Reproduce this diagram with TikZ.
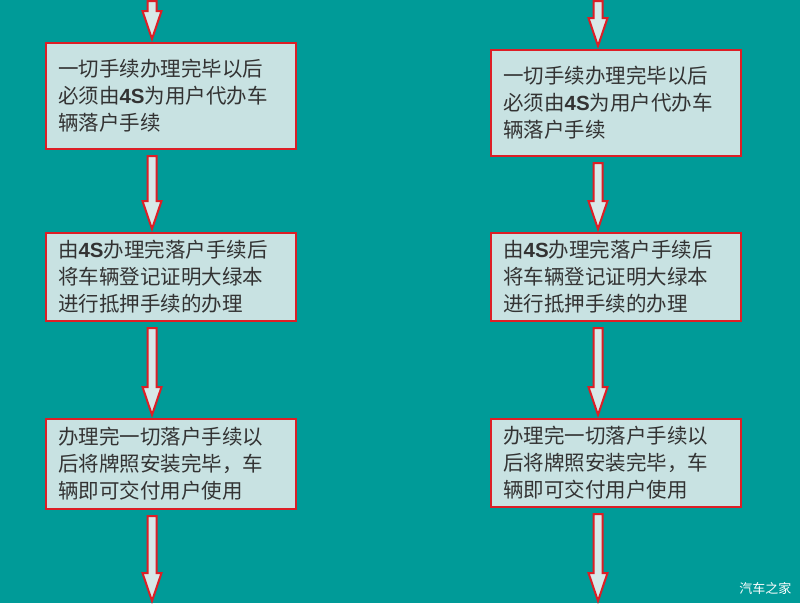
\documentclass[tikz,border=0pt]{standalone}
\usepackage{fontspec}
\setmainfont{Noto Sans CJK SC}
\newfontfamily\latinb{Liberation Sans}
\newcommand\fs{{\latinb\bfseries 4S}}
\usetikzlibrary{calc}
\definecolor{bg}{HTML}{009B98}
\definecolor{boxf}{HTML}{C8E2E2}
\definecolor{bred}{HTML}{DD1E26}
\definecolor{afill}{HTML}{D8E8E8}
\definecolor{txt}{HTML}{333333}
\tikzset{
 box/.style={draw=bred, line width=2.2pt, fill=boxf, minimum width=250pt, text width=226pt, align=left, inner xsep=12pt, inner ysep=0pt, font=\fontsize{20.5pt}{27pt}\selectfont, text=txt, anchor=north west},
}
% hollow arrow from (#1) down to (#2)
\newcommand\hollowarrow[2]{%
 \path let \p1=(#1), \p2=(#2) in
  [draw=bred, line width=2pt, fill=afill, line join=miter]
  (\x1-4.5pt,\y1) -- (\x1+4.5pt,\y1) -- (\x1+4.5pt,\y2+28pt) -- (\x1+9.5pt,\y2+28pt)
  -- (\x1,\y2) -- (\x1-9.5pt,\y2+28pt) -- (\x1-4.5pt,\y2+28pt) -- cycle;}
\begin{document}
\begin{tikzpicture}[x=1pt,y=-1pt]
\fill[bg] (0,0) rectangle (800,603);
\useasboundingbox (0,0) rectangle (800,603);
% left column
\node[box, minimum height=106pt] (l1) at (45,42) {一切手续办理完毕以后\\必须由\fs 为用户代办车\\辆落户手续};
\node[box, minimum height=88pt] (l2) at (45,232) {由\fs 办理完落户手续后\\将车辆登记证明大绿本\\进行抵押手续的办理};
\node[box, minimum height=90pt] (l3) at (45,418) {办理完一切落户手续以\\后将牌照安装完毕，车\\辆即可交付用户使用};
% right column
\node[box, minimum height=106pt] (r1) at (490,49) {一切手续办理完毕以后\\必须由\fs 为用户代办车\\辆落户手续};
\node[box, minimum height=88pt] (r2) at (490,232) {由\fs 办理完落户手续后\\将车辆登记证明大绿本\\进行抵押手续的办理};
\node[box, minimum height=88pt] (r3) at (490,418) {办理完一切落户手续以\\后将牌照安装完毕，车\\辆即可交付用户使用};
\node[text=white, font=\fontsize{13pt}{15pt}\selectfont, anchor=south east] (wm) at (795,598) {汽车之家};
\coordinate (lt) at (152,1); \coordinate (rt) at (598,1);
\coordinate (lb) at (152,601); \coordinate (rb) at (598,601);
\path (l1.south-|lt) +(0,6) coordinate (a1) (l2.north-|lt) +(0,-3) coordinate (a2)
      (l2.south-|lt) +(0,6) coordinate (a3) (l3.north-|lt) +(0,-3) coordinate (a4)
      (l3.south-|lt) +(0,6) coordinate (a5)
      (r1.south-|rt) +(0,6) coordinate (b1) (r2.north-|rt) +(0,-3) coordinate (b2)
      (r2.south-|rt) +(0,6) coordinate (b3) (r3.north-|rt) +(0,-3) coordinate (b4)
      (r3.south-|rt) +(0,6) coordinate (b5) (r1.north-|rt) +(0,-3) coordinate (b0)
      (l1.north-|lt) +(0,-3) coordinate (a0);
\hollowarrow{lt}{a0}\hollowarrow{a1}{a2}\hollowarrow{a3}{a4}\hollowarrow{a5}{lb}
\hollowarrow{rt}{b0}\hollowarrow{b1}{b2}\hollowarrow{b3}{b4}\hollowarrow{b5}{rb}
\end{tikzpicture}
\end{document}
